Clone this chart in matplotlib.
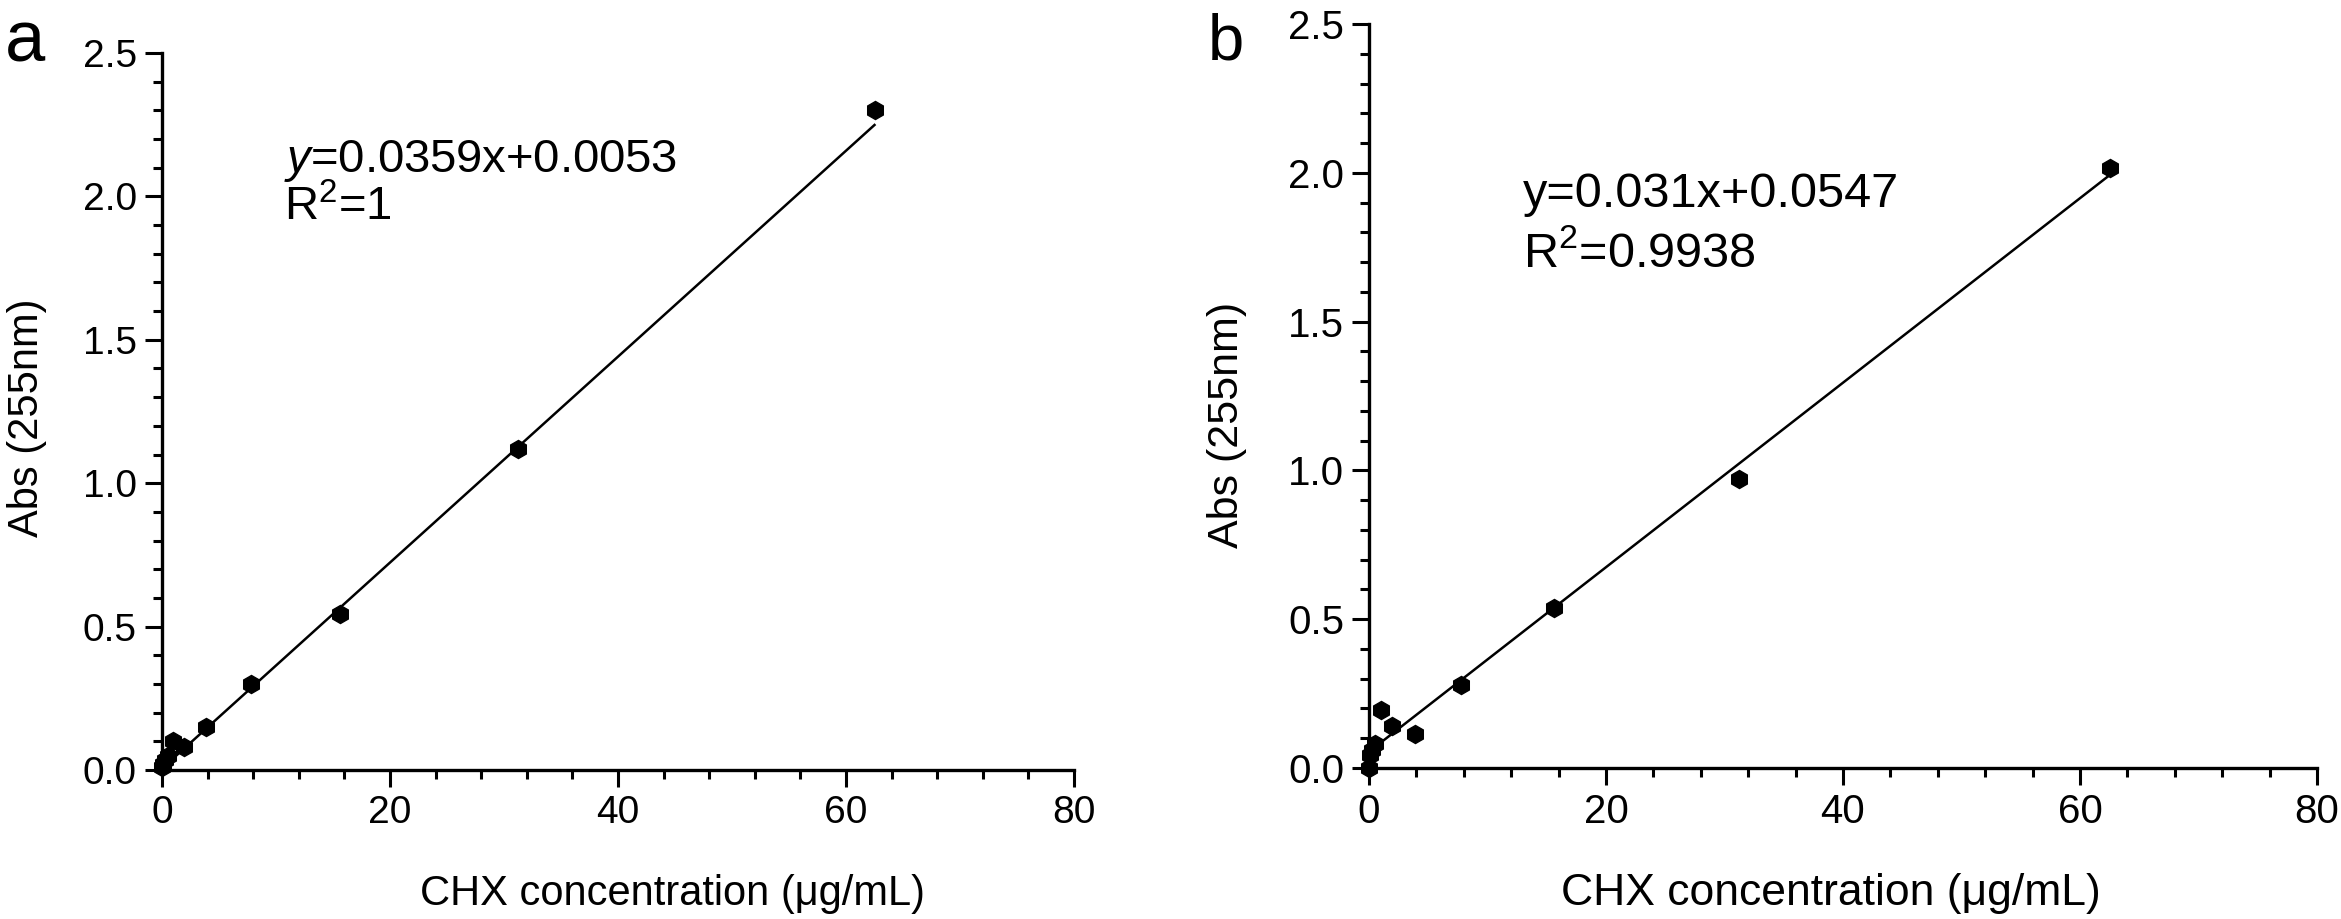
import numpy as np
import matplotlib
matplotlib.use('Agg')
from matplotlib import pyplot as plt
from matplotlib.ticker import MultipleLocator, FormatStrFormatter

plt.rcParams['font.family'] = ['Liberation Sans', 'DejaVu Sans']
plt.rcParams['mathtext.fontset'] = 'custom'
plt.rcParams['mathtext.rm'] = 'Liberation Sans'
plt.rcParams['mathtext.it'] = 'Liberation Sans:italic'
plt.rcParams['mathtext.default'] = 'regular'

# panel a data (CHX standard curve)
conc_a = [0, 0.12, 0.24, 0.49, 0.98, 1.95, 3.9, 7.8, 15.6, 31.25, 62.5]
abs_a = [0.01, 0.02, 0.035, 0.05, 0.10, 0.08, 0.15, 0.30, 0.545, 1.12, 2.30]
slope_a, icpt_a = 0.0359, 0.0053
eq_a = ['$\\mathit{y}$=0.0359x+0.0053', 'R$^2$=1']

# panel b data
conc_b = [0, 0.12, 0.24, 0.49, 0.98, 1.95, 3.9, 7.8, 15.6, 31.25, 62.5]
abs_b = [0.0, 0.045, 0.06, 0.08, 0.195, 0.14, 0.115, 0.28, 0.538, 0.971, 2.016]
slope_b, icpt_b = 0.031, 0.0547
eq_b = ['y=0.031x+0.0547', 'R$^2$=0.9938']

xticks = [0, 20, 40, 60, 80]
yticks = [0.0, 0.5, 1.0, 1.5, 2.0, 2.5]
xlab = 'CHX concentration (μg/mL)'
ylab = 'Abs (255nm)'

W, H = 2341, 919
fig = plt.figure(figsize=(W / 100, H / 100), dpi=100)

def box(l, r, b, t):
    return [l / W, (H - b) / H, (r - l) / W, (b - t) / H]

ax_a = fig.add_axes(box(162, 1074, 770, 53))
ax_b = fig.add_axes(box(1369, 2317, 768, 24))

def style(ax, fs):
    ax.set_xlim(0, 80)
    ax.set_ylim(0, 2.5)
    for s in ['top', 'right']:
        ax.spines[s].set_visible(False)
    for s in ['left', 'bottom']:
        ax.spines[s].set_linewidth(2.4)
    ax.set_xticks(xticks)
    ax.set_yticks(yticks)
    ax.xaxis.set_minor_locator(MultipleLocator(4))
    ax.yaxis.set_minor_locator(MultipleLocator(0.1))
    ax.yaxis.set_major_formatter(FormatStrFormatter('%.1f'))
    ax.tick_params(which='major', length=12, width=2.2, labelsize=fs, pad=6)
    ax.tick_params(which='minor', length=6.5, width=2.2)

def panel(ax, x, y, k, c, eq, ex, ey1, ey2, fs_eq):
    xx = np.array([0, max(x)])
    ax.plot(xx, k * xx + c, color='black', lw=1.8, zorder=2)
    ax.plot(x, y, 'h', color='black', ms=13, clip_on=False, zorder=3)
    ax.text(ex, ey1, eq[0], fontsize=fs_eq, va='baseline', ha='left')
    ax.text(ex, ey2, eq[1], fontsize=fs_eq, va='baseline', ha='left')

style(ax_a, 28)
style(ax_b, 29)
panel(ax_a, conc_a, abs_a, slope_a, icpt_a, eq_a, 10.7, 2.085, 1.915, 34)
panel(ax_b, conc_b, abs_b, slope_b, icpt_b, eq_b, 13.0, 1.885, 1.685, 35)

def ftxt(x, y, s, **kw):
    fig.text(x / W, (H - y) / H, s, **kw)

ftxt(5, 62, 'a', fontsize=52, ha='left', va='baseline')
ftxt(1208, 60, 'b', fontsize=47, ha='left', va='baseline')
ftxt(673, 905, xlab, fontsize=30, ha='center', va='baseline')
ftxt(1831, 905, xlab, fontsize=32, ha='center', va='baseline')
ftxt(27, 418, ylab, fontsize=30, ha='center', va='center', rotation=90)
ftxt(1227, 425, ylab, fontsize=31, ha='center', va='center', rotation=90)

fig.savefig('out.png', dpi=100)
